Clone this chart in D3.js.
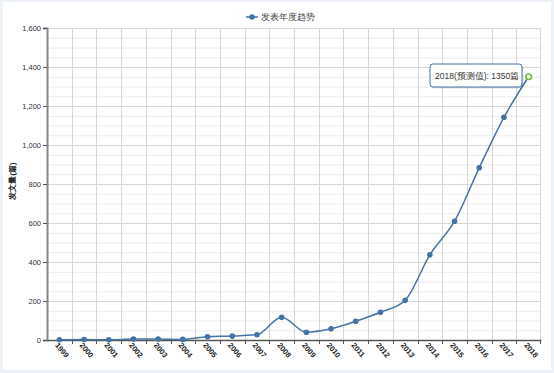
<!DOCTYPE html>
<html>
<head>
<meta charset="utf-8">
<script src="https://cdn.jsdelivr.net/npm/d3@7"></script>
<style>
  body { margin: 0; background: #edf2f8; }
  svg { display: block; font-family: "Liberation Sans", Arial, sans-serif; }
</style>
</head>
<body>
<svg width="554" height="373"></svg>
<script>
var years = ["1999","2000","2001","2002","2003","2004","2005","2006","2007","2008",
             "2009","2010","2011","2012","2013","2014","2015","2016","2017","2018"];
var counts = [1, 2, 1, 5, 5, 3, 17, 20, 27, 117, 40, 58, 96, 142, 204, 437, 609, 883, 1142, 1350];
var yTicks = [0, 200, 400, 600, 800, 1000, 1200, 1400, 1600];
var seriesName = "发表年度趋势";
var yTitle = "发文量(篇)";
var tipText = "2018(预测值): 1350篇";

var data = years.map(function(y, i) { return {year: y, value: counts[i]}; });

var svg = d3.select("svg"),
    margin = {top: 28, right: 13, bottom: 33, left: 47},
    width = +svg.attr("width") - margin.left - margin.right,
    height = +svg.attr("height") - margin.top - margin.bottom;

// white panel
svg.append("rect")
    .attr("x", 3).attr("y", 2)
    .attr("width", 548).attr("height", 368)
    .attr("fill", "#fff");

var x = d3.scaleBand().domain(years).range([0, width]),
    y = d3.scaleLinear().domain([0, 1600]).range([height, 0]);

var g = svg.append("g")
    .attr("transform", "translate(" + margin.left + "," + margin.top + ")");

// minor grid
g.append("g").selectAll("line")
    .data(d3.range(0, 1601, 50).filter(function(v) { return v % 200 !== 0; }))
  .enter().append("line")
    .attr("x1", 0).attr("x2", width)
    .attr("y1", function(d) { return y(d) + 0.5; })
    .attr("y2", function(d) { return y(d) + 0.5; })
    .attr("stroke", "#ececec");

// vertical grid at band edges
g.append("g").selectAll("line")
    .data(years.slice(1).concat(["end"]))
  .enter().append("line")
    .attr("x1", function(d) { return d === "end" ? width - 0.5 : Math.round(x(d)) + 0.5; })
    .attr("x2", function(d) { return d === "end" ? width - 0.5 : Math.round(x(d)) + 0.5; })
    .attr("y1", 0).attr("y2", height)
    .attr("stroke", "#d8d8d8");

// major grid
g.append("g").selectAll("line")
    .data(yTicks.slice(1))
  .enter().append("line")
    .attr("x1", 0).attr("x2", width)
    .attr("y1", function(d) { return Math.round(y(d)) + 0.5; })
    .attr("y2", function(d) { return Math.round(y(d)) + 0.5; })
    .attr("stroke", "#d8d8d8");

// y axis
var yAxis = g.append("g")
    .call(d3.axisLeft(y).tickValues(yTicks).tickFormat(d3.format(",")).tickSize(4).tickPadding(2));
yAxis.select(".domain").attr("stroke", "#888").attr("stroke-width", 2);
yAxis.selectAll(".tick line").attr("stroke", "#555");
yAxis.selectAll("text").attr("font-size", 7.5).attr("fill", "#333");

// x axis
var xAxis = g.append("g")
    .attr("transform", "translate(0," + height + ")")
    .call(d3.axisBottom(x).tickSize(0).tickPadding(0));
xAxis.select(".domain").attr("stroke", "#555").attr("stroke-width", 1.5);
xAxis.selectAll(".tick text")
    .attr("font-size", 7.5).attr("font-weight", "bold").attr("fill", "#222")
    .attr("text-anchor", "start")
    .attr("transform", "translate(-3,4) rotate(50)")
    .attr("dy", "0.3em");

// x ticks at band edges
g.append("g").selectAll("line")
    .data(years.slice(1).concat(["end"]))
  .enter().append("line")
    .attr("x1", function(d) { return d === "end" ? width - 0.5 : Math.round(x(d)) + 0.5; })
    .attr("x2", function(d) { return d === "end" ? width - 0.5 : Math.round(x(d)) + 0.5; })
    .attr("y1", height).attr("y2", height + 4)
    .attr("stroke", "#555");

// y title
svg.append("text")
    .attr("transform", "translate(15,181) rotate(-90)")
    .attr("text-anchor", "middle")
    .attr("font-size", 7.5).attr("font-weight", "bold").attr("fill", "#222")
    .text(yTitle);

var cx = function(d) { return x(d.year) + x.bandwidth() / 2; };

var line = d3.line()
    .x(cx)
    .y(function(d) { return y(d.value); })
    .curve(d3.curveMonotoneX);

g.append("path")
    .datum(data)
    .attr("fill", "none")
    .attr("stroke", "#4572a7")
    .attr("stroke-width", 1.5)
    .attr("d", line);

g.selectAll(".dot")
    .data(data.slice(0, data.length - 1))
  .enter().append("circle")
    .attr("class", "dot")
    .attr("cx", cx)
    .attr("cy", function(d) { return y(d.value); })
    .attr("r", 2.8)
    .attr("fill", "#4572a7");

var last = data[data.length - 1];
g.append("circle")
    .attr("cx", cx(last))
    .attr("cy", y(last.value))
    .attr("r", 2.8)
    .attr("fill", "#fff")
    .attr("stroke", "#6bb82d")
    .attr("stroke-width", 1.5);

// tooltip
var tip = svg.append("g").attr("transform", "translate(430,64)");
tip.append("rect")
    .attr("x", 1.5).attr("y", 1.5)
    .attr("width", 92).attr("height", 23).attr("rx", 3)
    .attr("fill", "rgba(0,0,0,0.12)");
tip.append("rect")
    .attr("width", 92).attr("height", 23).attr("rx", 3)
    .attr("fill", "#fff").attr("stroke", "#4572a7").attr("stroke-width", 1);
tip.append("text")
    .attr("x", 5).attr("y", 15)
    .attr("font-size", 8.5).attr("fill", "#333")
    .text(tipText);

// legend
var legend = svg.append("g").attr("transform", "translate(246,17)");
legend.append("line")
    .attr("x1", 0).attr("x2", 12)
    .attr("stroke", "#4572a7").attr("stroke-width", 1.5);
legend.append("circle")
    .attr("cx", 6).attr("r", 2.8).attr("fill", "#4572a7");
legend.append("text")
    .attr("x", 15).attr("y", 3)
    .attr("font-size", 8.5).attr("fill", "#444")
    .text(seriesName);
</script>
</body>
</html>
